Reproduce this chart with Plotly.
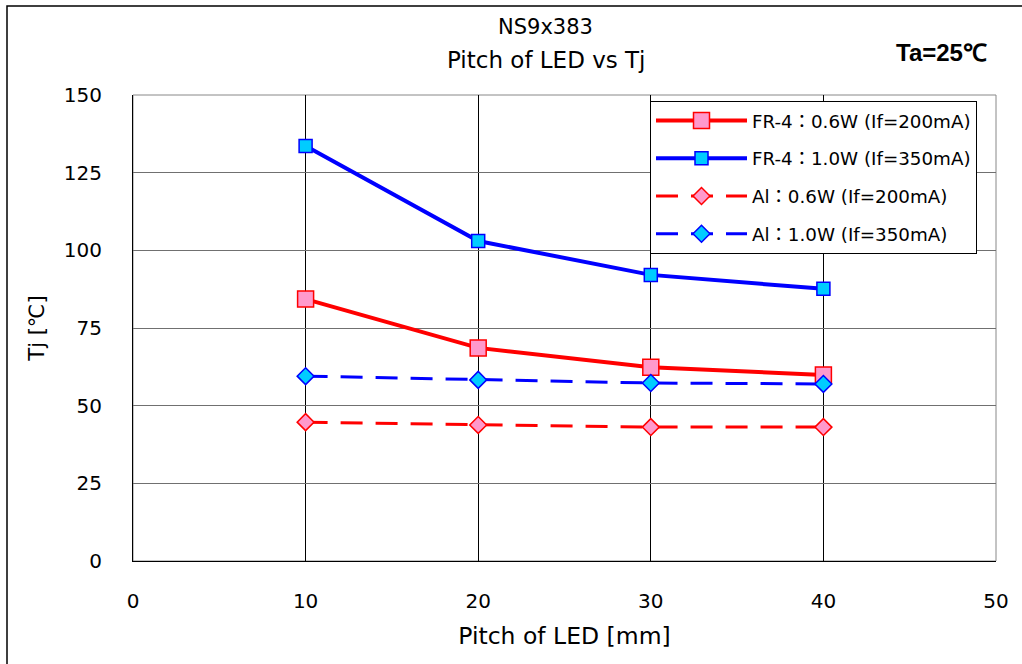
import plotly.graph_objects as go

pitch = [10, 20, 30, 40]
fr4_06 = [84.3, 68.6, 62.4, 59.9]
fr4_10 = [133.6, 103.0, 92.1, 87.6]
al_06 = [44.7, 43.8, 43.1, 43.1]
al_10 = [59.5, 58.3, 57.3, 57.0]

names = ["FR-4：0.6W (If=200mA)", "FR-4：1.0W (If=350mA)", "Al：0.6W (If=200mA)", "Al：1.0W (If=350mA)"]

FONT = "DejaVu Sans, Noto Sans CJK JP, sans-serif"

W, H = 1022, 664
ML, MT, MR, MB = 133, 95, 26, 103
PW = W - ML - MR
PH = H - MT - MB

def px(xabs):
    return (xabs - ML) / PW

def py(yabs):
    return (H - MB - yabs) / PH

fig = go.Figure()
fig.add_trace(go.Scatter(x=pitch, y=fr4_06, name=names[0], mode="lines+markers", legendgroup="a",
                         line=dict(color="#FF0000", width=4),
                         marker=dict(symbol="square", size=16, color="#FF99CC", line=dict(color="#FF0000", width=1.5))))
fig.add_trace(go.Scatter(x=pitch, y=fr4_10, name=names[1], mode="lines+markers", legendgroup="b",
                         line=dict(color="#0000FF", width=4),
                         marker=dict(symbol="square", size=13, color="#00CCFF", line=dict(color="#0000FF", width=1.5))))
fig.add_trace(go.Scatter(x=pitch, y=al_06, name=names[2], mode="lines+markers", legendgroup="c",
                         line=dict(color="#FF0000", width=3, dash="22px,13px"),
                         marker=dict(symbol="diamond", size=13, color="#FF99CC", line=dict(color="#FF0000", width=1.5))))
fig.add_trace(go.Scatter(x=pitch, y=al_10, name=names[3], mode="lines+markers", legendgroup="d",
                         line=dict(color="#0000FF", width=3, dash="22px,13px"),
                         marker=dict(symbol="diamond", size=13, color="#00CCFF", line=dict(color="#0000FF", width=1.5))))

fig.update_layout(
    width=W, height=H,
    margin=dict(l=ML, r=MR, t=MT, b=MB, pad=0),
    paper_bgcolor="white", plot_bgcolor="white",
    font=dict(family=FONT, size=20, color="black"),
    showlegend=True,
    legend=dict(x=px(650), y=py(101), xanchor="left", yanchor="top",
                bgcolor="white", bordercolor="black", borderwidth=1,
                font=dict(family=FONT, size=18.3), tracegroupgap=11, itemwidth=91,
                entrywidth=330, entrywidthmode="pixels"),
    xaxis=dict(range=[0, 50], tickvals=[0, 10, 20, 30, 40, 50], showgrid=True,
               gridcolor="black", gridwidth=1, zeroline=False,
               showline=True, linecolor="black", linewidth=1, mirror=False,
               ticks="", tickfont=dict(size=20), ticklabelstandoff=22,
               title=dict(text="Pitch of LED [mm]", font=dict(size=23.5), standoff=15)),
    yaxis=dict(range=[0, 150], tickvals=[0, 25, 50, 75, 100, 125, 150], showgrid=True,
               gridcolor="#707070", gridwidth=1, zeroline=False,
               showline=True, linecolor="black", linewidth=1,
               ticks="", tickfont=dict(size=20), ticklabelstandoff=26,
               title=dict(text="Tj [℃]", font=dict(size=21), standoff=13)),
    annotations=[
        dict(text="NS9x383", xref="paper", yref="paper",
             x=px(545), y=py(27), xanchor="center", yanchor="middle",
             showarrow=False, font=dict(size=21)),
        dict(text="Pitch of LED vs Tj", xref="paper", yref="paper",
             x=px(546), y=py(60), xanchor="center", yanchor="middle",
             showarrow=False, font=dict(size=23)),
        dict(text="<b>Ta=25℃</b>", xref="paper", yref="paper",
             x=px(941), y=py(53), xanchor="center", yanchor="middle",
             showarrow=False, font=dict(family="Liberation Sans, Arial, sans-serif", size=24)),
    ],
    shapes=[
        dict(type="rect", xref="paper", yref="paper", x0=px(7), x1=1.3,
             y0=-0.5, y1=py(6), line=dict(color="black", width=1.5), layer="below"),
        dict(type="rect", xref="paper", yref="paper", x0=0, x1=1, y0=0, y1=1,
             line=dict(color="#888888", width=1), layer="below"),
    ],
)

fig.write_html("out.html", config={"displayModeBar": False},
               post_script="document.body.style.margin='0';document.body.style.overflow='hidden';")
